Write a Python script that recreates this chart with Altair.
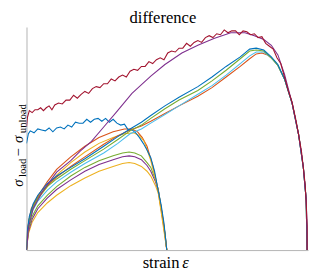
import altair as alt
import pandas as pd

# ---- data (arbitrary units: strain on x, stress difference on y) ----
red_x = [0,1,3,6,9,12,15,18,21,24,27,30,34,38,42,46,50,54,58,62,66,70,74,78,82,86,90,94,98,102,106,110,114,118,122,126,130,134,138,142,146,150,154,158,162,166,170,174,178,182,186,190,194,198,202,206,210,214,218,222,226,230,234,238,242,246,250,254,258,262,266,270,274,278,282,286,289,292,294,296,297,298,298]
red_y = [128,138,145,143,146,146,148,145,148,150,146,151,153,152,156,156,161,158,162,165,163,168,170,169,173,173,178,176,180,182,180,186,188,187,191,191,196,194,198,200,198,205,207,206,210,210,215,212,216,218,216,221,223,221,225,224,229,226,228,228,224,228,227,224,225,221,222,215,212,209,200,194,180,166,154,136,120,103,86,68,50,25,0]

purple_long_x = [0,2,7,17,32,47,57,69,82,95,112,132,147,165,182,199,217,232,242,252,260,267,274,282,289,294,297,298,298]
purple_long_y = [0,23,43,61,81,93,103,113,128,143,163,181,193,205,213,220,226,226,223,219,213,203,183,153,120,86,53,25,0]

blue_long_x = [0,1,3,7,12,22,32,47,62,82,97,110,122,132,147,162,182,197,212,227,237,244,252,260,267,274,282,289,294,297,298]
blue_long_y = [0,21,35,48,57,69,77,86,95,108,118,126,133,140,150,159,170,180,191,201,209,210,208,201,193,178,153,120,86,53,0]

green_long_x = [0,1,3,7,12,22,32,47,62,82,97,110,122,132,147,162,182,197,212,227,237,244,252,260,267,274,282,289,294,297,298]
green_long_y = [0,19,32,45,54,66,74,84,93,105,115,124,130,137,147,156,166,176,187,199,207,208,207,200,192,178,153,120,86,53,0]

lightblue_long_x = [0,1,3,7,12,22,32,47,62,82,97,110,122,132,147,162,182,197,212,227,237,244,252,260,267,274,282,289,294,297,298]
lightblue_long_y = [0,18,30,42,51,62,71,81,90,101,111,121,126,132,141,150,162,171,182,194,202,206,206,200,192,178,153,120,86,53,0]

orange_long_x = [0,1,3,7,12,22,32,47,62,82,97,110,122,132,147,162,182,197,212,227,237,244,250,256,262,267,274,282,289,294,297,298]
orange_long_y = [0,20,33,46,55,67,76,87,97,110,119,125,129,134,142,150,160,169,180,191,199,204,205,203,198,192,178,153,120,86,53,0]

blue_short_x = [0,2,4,8,12,16,20,24,28,32,36,40,44,48,52,56,60,64,68,72,76,80,84,88,92,96,100,104,108,112,116,120,124,128,132,136,140,143,146,149]
blue_short_y = [111,121,124,122,126,125,124,127,123,127,128,126,130,128,133,132,132,136,133,136,137,134,137,133,136,132,130,131,125,125,122,117,111,104,96,82,61,47,28,0]

yellow_short_x = [0,2,5,12,22,32,47,62,77,92,104,114,120,125,132,139,144,149]
yellow_short_y = [0,25,41,53,66,78,91,102,111,117,121,122,119,113,93,66,33,0]

orange_short_x = [0,2,5,12,22,32,47,62,77,92,104,112,118,123,128,134,140,145,149]
orange_short_y = [0,27,43,56,71,84,97,108,117,123,126,126,123,117,108,88,62,30,0]

green_short_x = [0,2,6,12,22,32,47,62,77,92,102,109,115,122,128,132,137,140,144,147,149]
green_short_y = [0,21,35,46,57,66,77,86,93,98,101,102,101,98,91,86,73,63,38,18,0]

purple_short_x = [0,2,6,12,22,32,47,62,77,92,102,109,115,122,128,132,137,140,144,147,149]
purple_short_y = [0,19,32,43,54,63,73,82,89,94,97,98,97,94,88,82,71,62,38,18,0]

yellow_low_x = [0,2,6,12,22,32,47,62,77,92,102,109,115,122,128,132,137,140,144,147,149]
yellow_low_y = [0,17,29,39,49,57,67,75,82,87,90,91,90,87,82,77,67,59,36,17,0]

series = [
    ("yellow_low", "#EDB120", yellow_low_x, yellow_low_y),
    ("purple_short", "#7E2F8E", purple_short_x, purple_short_y),
    ("green_short", "#77AC30", green_short_x, green_short_y),
    ("orange_short", "#D95319", orange_short_x, orange_short_y),
    ("yellow_short", "#EDB120", yellow_short_x, yellow_short_y),
    ("blue_short", "#0072BD", blue_short_x, blue_short_y),
    ("orange_long", "#D95319", orange_long_x, orange_long_y),
    ("lightblue_long", "#4DBEEE", lightblue_long_x, lightblue_long_y),
    ("green_long", "#77AC30", green_long_x, green_long_y),
    ("blue_long", "#0072BD", blue_long_x, blue_long_y),
    ("purple_long", "#7E2F8E", purple_long_x, purple_long_y),
    ("red_long", "#A2142F", red_x, red_y),
]

rows = []
for k, (name, col, xs, ys) in enumerate(series):
    for i, (xv, yv) in enumerate(zip(xs, ys)):
        rows.append({"series": name, "rank": k, "idx": i, "x": xv, "y": yv})
df = pd.DataFrame(rows)

names = [s[0] for s in series]
colors = [s[1] for s in series]

axis_style = dict(title=None, labels=False, ticks=False, grid=False,
                  domainColor="#b3b3b3", domainWidth=1)

lines = alt.Chart(df).mark_line(strokeWidth=1.1, clip=True).encode(
    x=alt.X("x:Q", scale=alt.Scale(domain=[0, 299], nice=False, zero=False),
            axis=alt.Axis(**axis_style)),
    y=alt.Y("y:Q", scale=alt.Scale(domain=[0, 232], nice=False),
            axis=alt.Axis(**axis_style)),
    color=alt.Color("series:N", scale=alt.Scale(domain=names, range=colors), legend=None),
    order=alt.Order("idx:Q"),
)

SERIF = "Liberation Serif"

def label(txt, x, y, size, angle=0, align="center", style="normal"):
    return alt.Chart(pd.DataFrame({"t": [txt]})).mark_text(
        font=SERIF, fontSize=size, angle=angle, align=align,
        baseline="alphabetic", fontStyle=style, color="black"
    ).encode(text="t:N", x=alt.value(x), y=alt.value(y))

title = label("difference", 140, -4, 17)
xl1 = label("strain", 157, 247, 17, align="right")
xl2 = label("ε", 160, 247, 17, align="left", style="italic")
yl = [
    label("σ", -4, 164, 15, angle=270, align="left", style="italic"),
    label("load", -1, 154, 11, angle=270, align="left"),
    label("−", -4, 133, 15, angle=270, align="left"),
    label("σ", -4, 119, 15, angle=270, align="left", style="italic"),
    label("unload", -1, 109, 11, angle=270, align="left"),
]

chart = alt.layer(lines, title, xl1, xl2, *yl).properties(
    width=289, height=229,
    padding={"left": 19, "top": 16, "right": 1, "bottom": 20},
    autosize=alt.AutoSizeParams(type="none"),
).configure_view(stroke=None)

chart.save("out.html", embed_options={"renderer": "svg", "actions": False})
